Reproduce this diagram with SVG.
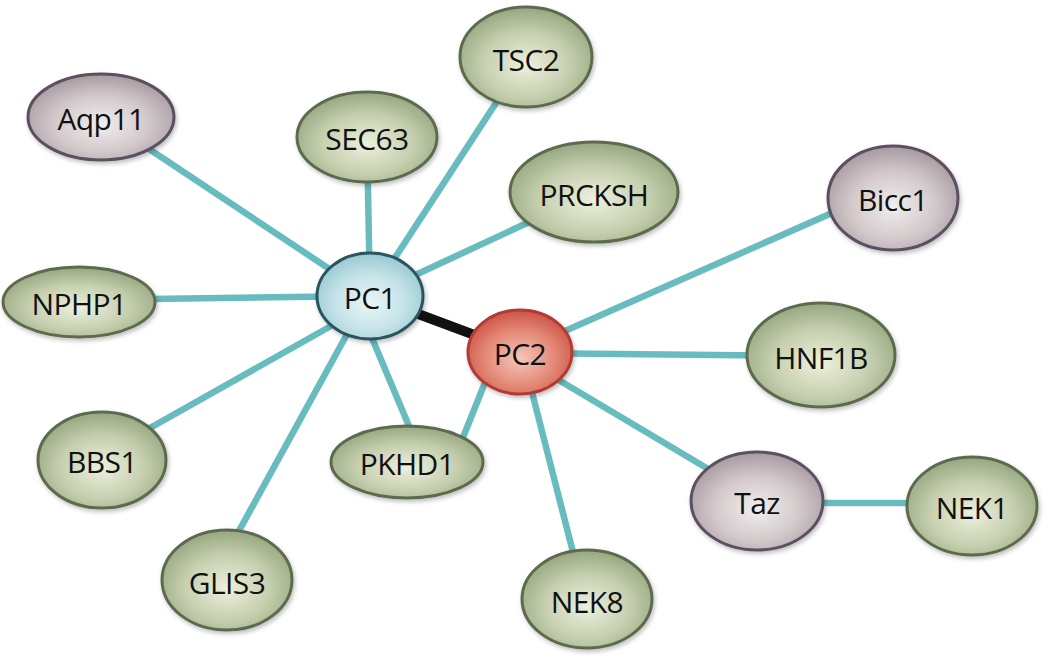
<svg xmlns="http://www.w3.org/2000/svg" width="1050" height="664" viewBox="0 0 1050 664">
<defs>
<radialGradient id="gGreen" cx="50%" cy="58%" r="55%">
<stop offset="0" stop-color="#edf0dd"/>
<stop offset="0.6" stop-color="#c5cfae"/>
<stop offset="1" stop-color="#9cab85"/>
</radialGradient>
<radialGradient id="gMauve" cx="50%" cy="58%" r="55%">
<stop offset="0" stop-color="#f1eeee"/>
<stop offset="0.6" stop-color="#d2c8ca"/>
<stop offset="1" stop-color="#ab9fa4"/>
</radialGradient>
<radialGradient id="gBlue" cx="50%" cy="58%" r="55%">
<stop offset="0" stop-color="#e9f6f7"/>
<stop offset="0.6" stop-color="#c4e3e8"/>
<stop offset="1" stop-color="#9dcbd4"/>
</radialGradient>
<radialGradient id="gRed" cx="50%" cy="58%" r="55%">
<stop offset="0" stop-color="#f5c6b8"/>
<stop offset="0.6" stop-color="#e48a78"/>
<stop offset="1" stop-color="#cf5a4c"/>
</radialGradient>
<filter id="sh" x="-20%" y="-20%" width="140%" height="150%">
<feDropShadow dx="1.5" dy="2.5" stdDeviation="2" flood-color="#000" flood-opacity="0.25"/>
</filter>
</defs>
<style>
.e{stroke:#68bcc0;stroke-width:6.5;fill:none;stroke-linecap:butt}
.k{stroke:#111;stroke-width:10;fill:none}
.n ellipse{stroke-width:3;filter:url(#sh)}
.green ellipse{fill:url(#gGreen);stroke:#5c6a4e}
.mauve ellipse{fill:url(#gMauve);stroke:#5c5060}
.blue ellipse{fill:url(#gBlue);stroke:#2c5560}
.red ellipse{fill:url(#gRed);stroke:#b33a36}
text{font-family:"Open Sans","Noto Sans","DejaVu Sans",sans-serif;font-size:30px;letter-spacing:-0.6px;fill:#111;text-anchor:middle}
</style>
<g id="connectors">
<line class="e" x1="101" y1="117" x2="370" y2="296"/>
<line class="e" x1="367" y1="137" x2="370" y2="296"/>
<line class="e" x1="526" y1="57" x2="370" y2="296"/>
<line class="e" x1="594" y1="192" x2="370" y2="296"/>
<line class="e" x1="79" y1="300" x2="370" y2="296"/>
<line class="e" x1="102" y1="455" x2="370" y2="304"/>
<line class="e" x1="212" y1="580" x2="368" y2="296"/>
<line class="e" x1="356" y1="300" x2="419" y2="450"/>
<line class="e" x1="500" y1="345" x2="458" y2="450"/>
<line class="e" x1="525" y1="365" x2="575" y2="560"/>
<line class="e" x1="525" y1="360" x2="757" y2="498"/>
<line class="e" x1="520" y1="353" x2="821" y2="356"/>
<line class="e" x1="540" y1="342" x2="893" y2="186"/>
<line class="e" x1="757" y1="503" x2="972" y2="503"/>
<line class="k" x1="370" y1="296" x2="520" y2="352"/>
</g>
<g id="node-Aqp11" class="n mauve"><ellipse cx="101" cy="117" rx="73" ry="43"/><text x="101" y="130">Aqp11</text></g>
<g id="node-SEC63" class="n green"><ellipse cx="367" cy="137" rx="70" ry="45"/><text x="367" y="150">SEC63</text></g>
<g id="node-TSC2" class="n green"><ellipse cx="526" cy="57" rx="66" ry="50"/><text x="526" y="71">TSC2</text></g>
<g id="node-PRCKSH" class="n green"><ellipse cx="594" cy="192" rx="84" ry="50"/><text x="594" y="206">PRCKSH</text></g>
<g id="node-Bicc1" class="n mauve"><ellipse cx="893" cy="198" rx="65" ry="52"/><text x="893" y="211">Bicc1</text></g>
<g id="node-NPHP1" class="n green"><ellipse cx="79" cy="302" rx="76" ry="35"/><text x="79" y="315">NPHP1</text></g>
<g id="node-PC1" class="n blue"><ellipse cx="370" cy="296" rx="53" ry="43"/><text x="370" y="309">PC1</text></g>
<g id="node-PC2" class="n red"><ellipse cx="520" cy="352" rx="52" ry="42"/><text x="520" y="365">PC2</text></g>
<g id="node-HNF1B" class="n green"><ellipse cx="821" cy="355" rx="74" ry="52"/><text x="821" y="369">HNF1B</text></g>
<g id="node-BBS1" class="n green"><ellipse cx="102" cy="460" rx="64" ry="48"/><text x="102" y="473">BBS1</text></g>
<g id="node-PKHD1" class="n green"><ellipse cx="407" cy="462" rx="76" ry="36"/><text x="407" y="475">PKHD1</text></g>
<g id="node-GLIS3" class="n green"><ellipse cx="227" cy="580" rx="65" ry="50"/><text x="227" y="594">GLIS3</text></g>
<g id="node-Taz" class="n mauve"><ellipse cx="757" cy="501" rx="66" ry="49"/><text x="757" y="514">Taz</text></g>
<g id="node-NEK1" class="n green"><ellipse cx="972" cy="506" rx="65" ry="49"/><text x="972" y="519">NEK1</text></g>
<g id="node-NEK8" class="n green"><ellipse cx="587" cy="599" rx="65" ry="49"/><text x="587" y="613">NEK8</text></g>
</svg>
